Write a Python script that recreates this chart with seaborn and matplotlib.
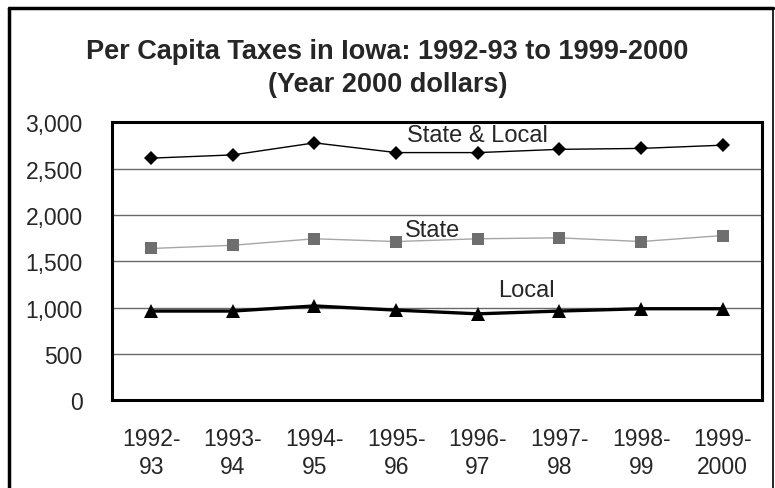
import numpy as np
import pandas as pd
import matplotlib
matplotlib.use("Agg")
import matplotlib.pyplot as plt
import seaborn as sns
from matplotlib.lines import Line2D

# 数据：爱荷华州人均税收（2000年美元）
years = ["1992-\n93", "1993-\n94", "1994-\n95", "1995-\n96",
         "1996-\n97", "1997-\n98", "1998-\n99", "1999-\n2000"]
state_local = [2615, 2650, 2780, 2675, 2675, 2710, 2720, 2755]
state = [1640, 1675, 1745, 1715, 1745, 1755, 1715, 1780]
local = [965, 965, 1020, 975, 935, 965, 990, 990]
y_ticks = [0, 500, 1000, 1500, 2000, 2500, 3000]

df = pd.DataFrame({"idx": np.arange(len(years)),
                   "State & Local": state_local,
                   "State": state,
                   "Local": local})

sns.set_style("white")
plt.rcParams['font.family'] = ['Liberation Sans', 'DejaVu Sans']

fig = plt.figure(figsize=(7.75, 4.89), dpi=100)
ax = fig.add_axes([0.1445, 0.179, 0.8387, 0.5685])

# 三条线
sns.lineplot(data=df, x="idx", y="State & Local", ax=ax, color="black",
             linewidth=1.0, marker="D", markersize=7, markeredgewidth=0)
sns.lineplot(data=df, x="idx", y="State", ax=ax, color="#a6a6a6",
             linewidth=1.0, marker="s", markersize=8, markeredgewidth=0,
             markerfacecolor="#6e6e6e")
sns.lineplot(data=df, x="idx", y="Local", ax=ax, color="black",
             linewidth=2.4, marker="^", markersize=10, markeredgewidth=0)

# 网格线
for v in y_ticks[1:-1]:
    ax.axhline(v, color="#6a6a6a", linewidth=1.0, zorder=0)

ax.set_ylim(0, 3000)
ax.set_xlim(-0.48, len(years) - 0.52)
ax.set_yticks(y_ticks)
ax.set_yticklabels([f"{v:,}" for v in y_ticks], fontsize=16.5)
ax.set_xticks(df["idx"])
ax.set_xticklabels(years, fontsize=16.5, linespacing=1.3)
ax.tick_params(axis="y", length=0, pad=21)
ax.tick_params(axis="x", length=0, pad=19)
ax.set_xlabel("")
ax.set_ylabel("")
for s in ax.spines.values():
    s.set_color("black")
    s.set_linewidth(2.2)

# 系列标签
ax.text(4.0, 2862, "State & Local", fontsize=17, ha="center", va="center")
ax.text(3.45, 1836, "State", fontsize=17, ha="center", va="center")
ax.text(4.6, 1188, "Local", fontsize=17, ha="center", va="center")

# 标题
fig.text(0.5, 1 - 52 / 489, "Per Capita Taxes in Iowa: 1992-93 to 1999-2000",
         fontsize=19.5, fontweight="bold", ha="center", va="center")
fig.text(0.5, 1 - 85 / 489, "(Year 2000 dollars)",
         fontsize=19.5, fontweight="bold", ha="center", va="center")

# 外框
fig.add_artist(Line2D([9 / 775, 9 / 775], [0, 1 - 9 / 489], color="black",
                      linewidth=2.5, transform=fig.transFigure))
fig.add_artist(Line2D([9 / 775, 773 / 775], [1 - 9 / 489, 1 - 9 / 489],
                      color="black", linewidth=2.5, transform=fig.transFigure))
fig.add_artist(Line2D([773 / 775, 773 / 775], [0, 1 - 9 / 489], color="black",
                      linewidth=1.2, transform=fig.transFigure))

fig.savefig("out.png", dpi=100)
